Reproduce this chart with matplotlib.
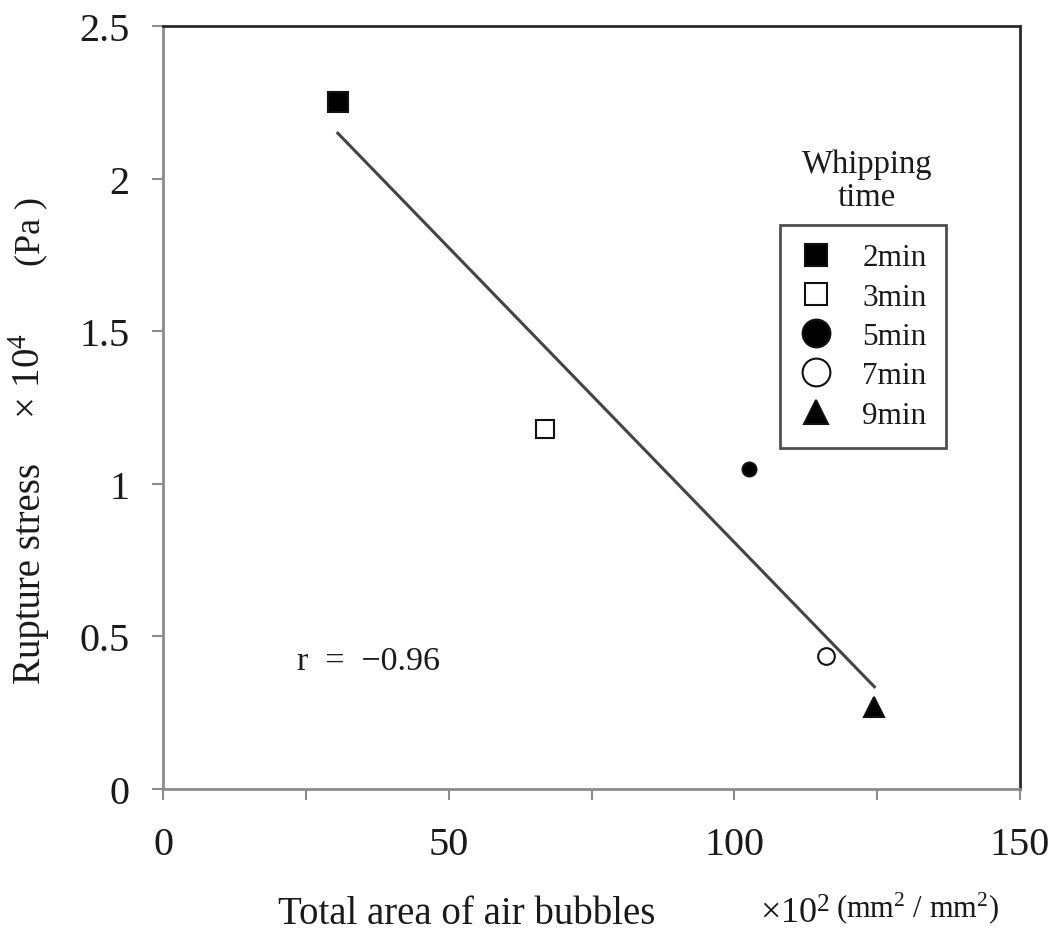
import numpy as np
import matplotlib
matplotlib.use("Agg")
import matplotlib.pyplot as plt
from matplotlib.lines import Line2D

plt.rcParams['font.family'] = ['Liberation Serif', 'DejaVu Serif']
plt.rcParams['mathtext.fontset'] = 'custom'
plt.rcParams['mathtext.rm'] = 'Liberation Serif'
plt.rcParams['mathtext.default'] = 'regular'

# whipping time groups and measured values
labels = ['2min', '3min', '5min', '7min', '9min']
bubble_area = [30.6, 66.9, 102.6, 116.1, 124.5]   # x10^2 mm2/mm2
rupture_stress = [2.25, 1.18, 1.05, 0.436, 0.27]  # x10^4 Pa

markers = ['s', 's', 'o', 'o', '^']
filled = [True, False, True, False, True]
plot_sizes = [14, 13, 10, 12, 15]
legend_sizes = [16, 16, 20, 20, 17]

ink = '#1a1a1a'

fig = plt.figure(figsize=(10.49, 9.37), dpi=100)
ax = fig.add_axes([0.1554, 0.1569, 0.817, 0.8143])

for x, y, m, f, s in zip(bubble_area, rupture_stress, markers, filled, plot_sizes):
    ax.plot(x, y, linestyle='none', marker=m, markersize=s,
            markerfacecolor='black' if f else 'white',
            markeredgecolor='#111111', markeredgewidth=1.5, zorder=3)

# least squares line over the measured range
slope, icpt = np.polyfit(bubble_area, rupture_stress, 1)
xs = np.array([min(bubble_area), max(bubble_area)])
ax.plot(xs, slope * xs + icpt, color='#444444', lw=2.2, zorder=2)
r = np.corrcoef(bubble_area, rupture_stress)[0, 1]
ax.text(23.5, 0.42, f'r  =  \u2212{abs(r):.2f}', fontsize=24.5, color=ink,
        va='center', ha='left')

ax.set_xlim(0, 150)
ax.set_ylim(0, 2.5)
ax.set_xticks([0, 50, 100, 150])
ax.set_xticks([25, 75, 125], minor=True)
ax.set_yticks([0, 0.5, 1, 1.5, 2, 2.5])
ax.set_yticklabels(['0', '0.5', '1', '1.5', '2', '2.5'])
ax.tick_params(axis='both', which='both', direction='out', length=8,
               width=1.5, color='#8c8c8c', labelsize=29, labelcolor=ink)
ax.tick_params(axis='x', pad=19)
ax.tick_params(axis='y', pad=16)
ax.tick_params(axis='x', which='minor', labelbottom=False)

for side in ['left', 'bottom']:
    ax.spines[side].set_color('#8c8c8c')
    ax.spines[side].set_linewidth(2)
for side in ['top', 'right']:
    ax.spines[side].set_color('#2a2a2a')
    ax.spines[side].set_linewidth(2)

# legend with its own marker sizes
handles = [Line2D([], [], linestyle='none', marker=m, markersize=s,
                  markerfacecolor='black' if f else 'white',
                  markeredgecolor='#111111', markeredgewidth=1.5)
           for m, f, s in zip(markers, filled, legend_sizes)]
leg = ax.legend(handles, labels, loc='upper left',
                bbox_to_anchor=(0.7195, 0.7395), fontsize=22.5,
                frameon=True, fancybox=False, edgecolor='#222222',
                handlelength=1.1, handletextpad=0.95, labelspacing=0.33,
                borderpad=0.6, borderaxespad=0)
leg.get_frame().set_linewidth(2)
for t in leg.get_texts():
    t.set_color(ink)
fig.text(867 / 1049, 1 - 181 / 937, 'Whipping\ntime', fontsize=23.5,
         color=ink, ha='center', va='center', linespacing=1.1)

# axis titles built from separate pieces
fig.text(31 / 1049, 1 - 573 / 937, 'Rupture stress', rotation=90,
         fontsize=28, color=ink, ha='center', va='center')
fig.text(31 / 1049, 1 - 376 / 937, '\u00d7 10$^{4}$', rotation=90,
         fontsize=28, color=ink, ha='center', va='center')
fig.text(31 / 1049, 1 - 232 / 937, '(Pa )', rotation=90,
         fontsize=26, color=ink, ha='center', va='center')

fig.text(467 / 1049, 1 - 915 / 937, 'Total area of air bubbles',
         fontsize=28, color=ink, ha='center', va='center')
fig.text(795 / 1049, 1 - 915 / 937, '\u00d710$^{2}$',
         fontsize=26, color=ink, ha='center', va='center')
fig.text(917 / 1049, 1 - 908 / 937, '(mm$^{2}$ / mm$^{2}$)',
         fontsize=22, color=ink, ha='center', va='center')

fig.savefig('out.png', dpi=100, facecolor='white')
